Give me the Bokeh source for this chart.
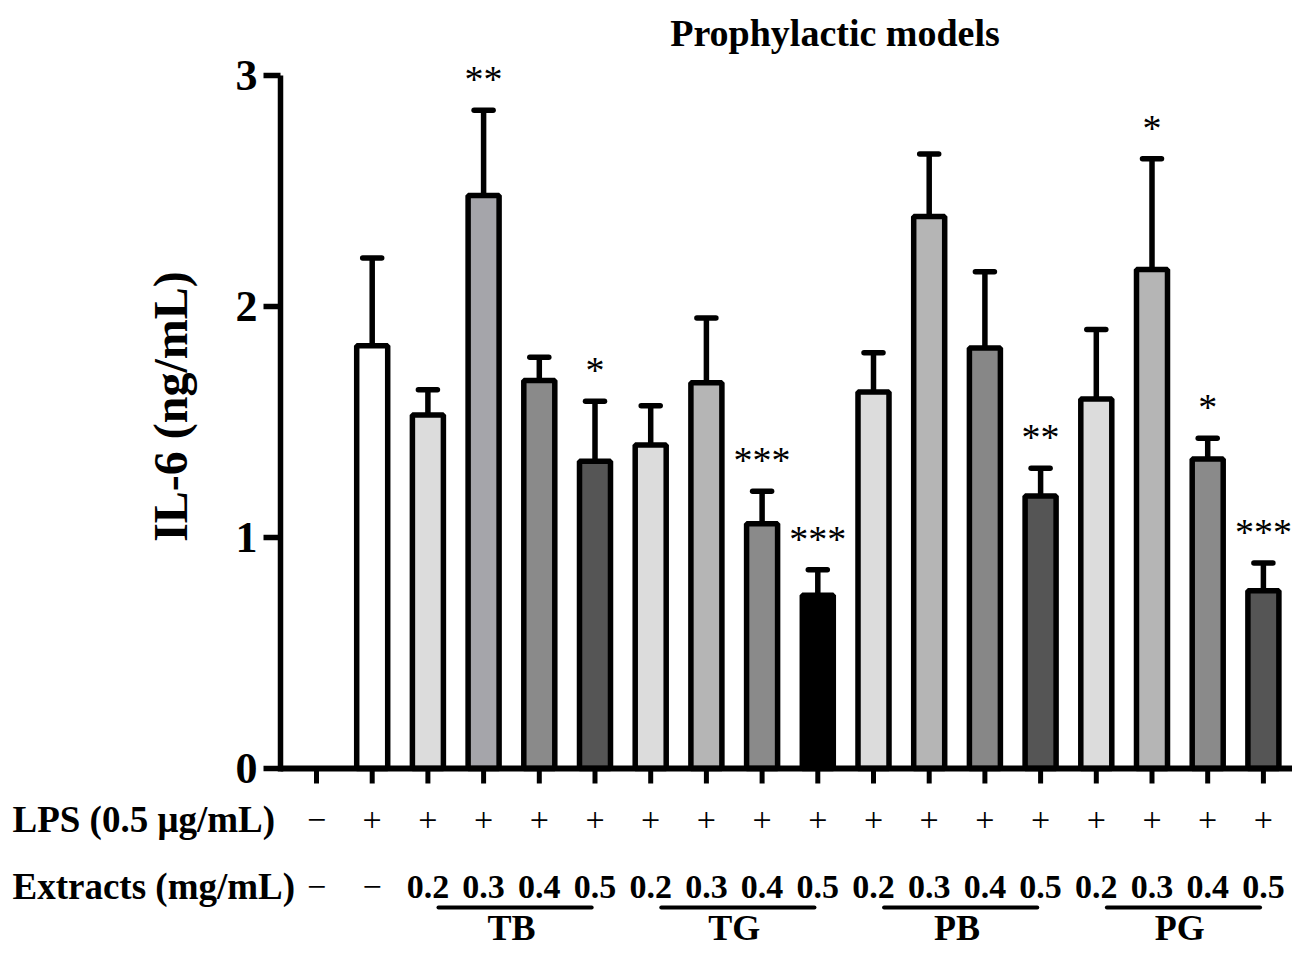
import math
from bokeh.plotting import figure
from bokeh.models import ColumnDataSource, Range1d, Whisker, TeeHead
from bokeh.core.properties import value
from bokeh.embed import file_html
from bokeh.resources import INLINE

# ---------------- data ----------------
lps_row = ["\u2212"] + ["+"] * 17
extract_row = ["\u2212", "\u2212"] + ["0.2", "0.3", "0.4", "0.5"] * 4
groups = ["TB", "TG", "PB", "PG"]
il6_mean = [0.0, 1.83, 1.53, 2.48, 1.68, 1.33, 1.40, 1.67, 1.06, 0.75,
            1.63, 2.39, 1.82, 1.18, 1.60, 2.16, 1.34, 0.77]
il6_sem = [0.0, 0.38, 0.11, 0.37, 0.10, 0.26, 0.17, 0.28, 0.14, 0.11,
           0.17, 0.27, 0.33, 0.12, 0.30, 0.48, 0.09, 0.12]
signif = ["", "", "", "**", "", "*", "", "", "***", "***",
          "", "", "", "**", "", "*", "*", "***"]
bar_colors = ["white", "white", "#dcdcdc", "#a5a5aa", "#8a8a8a", "#555555",
              "#dcdcdc", "#b5b5b5", "#8a8a8a", "#000000",
              "#dcdcdc", "#b5b5b5", "#878787", "#555555",
              "#dcdcdc", "#b5b5b5", "#8a8a8a", "#555555"]
y_ticks = [0, 1, 2, 3]
y_tick_labels = ["0", "1", "2", "3"]
title_text = "Prophylactic models"
y_label = "IL-6 (ng/mL)"
lps_label = "LPS (0.5 \u03bcg/mL)"
extract_label = "Extracts (mg/mL)"

# ---------------- layout constants ----------------
n = len(il6_mean)
cats = list(range(n))
FONT = "Liberation Serif"
W, H = 1292, 951
SX = 55.7     # px per category
SY = 231.0    # px per IL-6 unit
X0 = 316.0    # pixel x of first category
Y0 = 768.0    # pixel y of value 0


def dx(px):   # horizontal pixel -> data
    return (px - X0) / SX


def dy(px):   # vertical pixel -> data
    return (Y0 - px) / SY


p = figure(width=W, height=H, output_backend="svg", toolbar_location=None,
           title=None,
           x_range=Range1d(dx(0), dx(W)), y_range=Range1d(dy(H), dy(0)),
           x_axis_location=None, y_axis_location=None,
           min_border_left=0, min_border_right=0,
           min_border_top=0, min_border_bottom=0)
p.xgrid.visible = False
p.ygrid.visible = False
p.outline_line_color = None
p.background_fill_color = "white"
p.border_fill_color = "white"

# ---------------- bars + error bars ----------------
idx = [i for i in cats if il6_mean[i] > 0]
src = ColumnDataSource(dict(
    x=[cats[i] for i in idx],
    top=[il6_mean[i] for i in idx],
    upper=[il6_mean[i] + il6_sem[i] for i in idx],
    color=[bar_colors[i] for i in idx],
))
wh = Whisker(source=src, base="x", lower="top", upper="upper", dimension="height",
             line_width=5.5, line_color="black", level="underlay",
             upper_head=TeeHead(size=19, line_width=5.5, line_color="black", line_cap="round"),
             lower_head=None)
p.add_layout(wh)
p.vbar(x="x", top="top", bottom=0, width=31 / SX, fill_color="color",
       line_color="black", line_width=5.5, source=src)

# significance stars
star_src = ColumnDataSource(dict(
    x=[cats[i] for i in idx if signif[i]],
    y=[il6_mean[i] + il6_sem[i] + 31 / SY for i in idx if signif[i]],
    t=[signif[i] for i in idx if signif[i]],
))
p.text(x="x", y="y", text="t", source=star_src, text_font=value(FONT),
       text_font_size="38px", text_align="center", text_baseline="middle",
       text_color="black")

# ---------------- x axis (baseline + ticks) ----------------
x_axis_pos = dx(280)
p.segment(x0=[x_axis_pos], y0=[0], x1=[dx(W + 20)], y1=[0], line_width=6, line_color="black")
p.segment(x0=cats, y0=[0] * n, x1=cats, y1=[-15 / SY] * n,
          line_width=5, line_color="black")

# ---------------- y axis ----------------
p.segment(x0=[x_axis_pos], y0=[y_ticks[0] - 3 / SY], x1=[x_axis_pos], y1=[y_ticks[-1]],
          line_width=5.5, line_color="black")
p.segment(x0=[x_axis_pos] * len(y_ticks), y0=y_ticks,
          x1=[x_axis_pos - 17 / SX] * len(y_ticks), y1=y_ticks,
          line_width=5.5, line_color="black")
p.text(x=[x_axis_pos - 23 / SX] * len(y_ticks), y=y_ticks, text=y_tick_labels,
       text_font=value(FONT), text_font_style="bold", text_font_size="44px",
       text_align="right", text_baseline="middle", text_color="black")
p.text(x=[dx(170)], y=[dy(406)], text=[y_label], angle=math.pi / 2,
       text_font=value(FONT), text_font_style="bold", text_font_size="48px",
       text_align="center", text_baseline="middle", text_color="black")

# ---------------- title ----------------
p.text(x=[dx(834.5)], y=[dy(32)], text=[title_text], text_font=value(FONT),
       text_font_style="bold", text_font_size="38px", text_align="center",
       text_baseline="middle", text_color="black")

# ---------------- treatment rows ----------------
y_lps = dy(819)
y_ext = dy(886)
y_line = dy(907)
y_grp = dy(927)

p.text(x=cats, y=[y_lps] * n, text=lps_row, text_font=value(FONT),
       text_font_size="34px", text_align="center", text_baseline="middle",
       text_color="black")

ext_src = ColumnDataSource(dict(
    x=cats, y=[y_ext] * n, t=extract_row,
    style=["normal" if t == "\u2212" else "bold" for t in extract_row],
))
p.text(x="x", y="y", text="t", source=ext_src, text_font=value(FONT),
       text_font_style="style", text_font_size="34px", text_align="center",
       text_baseline="middle", text_color="black")

g_start = [cats[2 + 4 * g] for g in range(len(groups))]
g_end = [cats[5 + 4 * g] for g in range(len(groups))]
p.segment(x0=[s + 0.19 for s in g_start], y0=[y_line] * len(groups),
          x1=[e - 0.06 for e in g_end], y1=[y_line] * len(groups),
          line_width=4, line_color="black", line_cap="round")
p.text(x=[(s + e) / 2 for s, e in zip(g_start, g_end)], y=[y_grp] * len(groups),
       text=groups, text_font=value(FONT), text_font_style="bold",
       text_font_size="36px", text_align="center", text_baseline="middle",
       text_color="black")

# row labels on the left
p.text(x=[dx(12)] * 2, y=[y_lps, y_ext], text=[lps_label, extract_label],
       text_font=value(FONT), text_font_style="bold", text_font_size="37px",
       text_align="left", text_baseline="middle", text_color="black")

open("out.html", "w").write(file_html(p, INLINE))
